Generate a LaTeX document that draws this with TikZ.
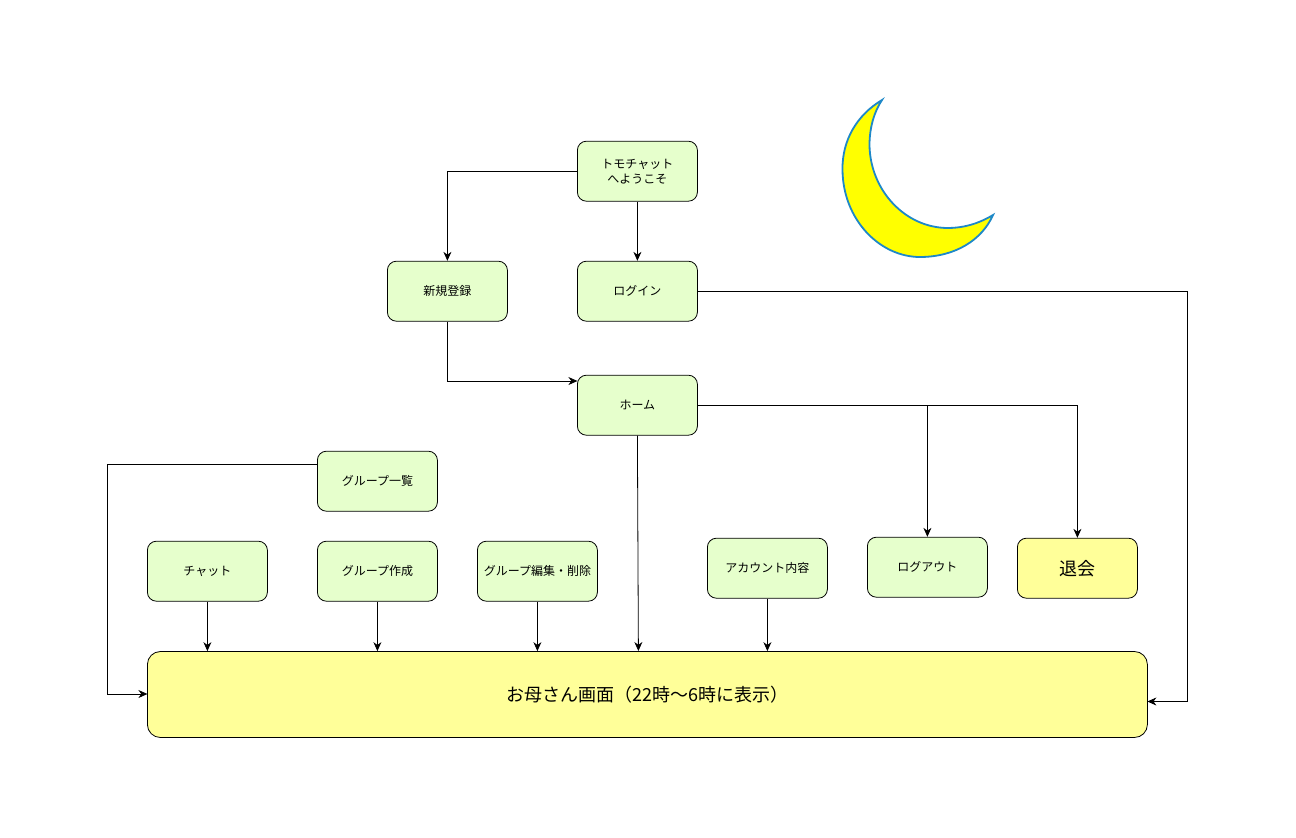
\documentclass[tikz,border=0pt]{standalone}
\usepackage{fontspec}
\setmainfont{Noto Sans CJK JP}
\usetikzlibrary{arrows.meta,calc}
\definecolor{boxgreen}{HTML}{E6FFCC}
\definecolor{boxyellow}{HTML}{FFFF99}
\definecolor{moonblue}{HTML}{1E88C8}
\definecolor{moonyellow}{RGB}{255,255,0}
\tikzset{
 x=1pt,y=-1pt,
 scrbox/.style={draw=black,line width=0.8pt,fill=boxgreen,rounded corners=9pt,minimum width=120pt,minimum height=60pt,inner sep=0pt,font=\fontsize{12}{15}\selectfont,align=center},
 warnbox/.style={scrbox,fill=boxyellow},
 conn/.style={draw=black,line width=0.8pt,-{Stealth[length=9pt,width=8pt]}},
}
\begin{document}
\begin{tikzpicture}
\useasboundingbox (0,0) rectangle (1296,838);
\fill[white] (0,0) rectangle (1296,838);
% moon
\draw[draw=moonblue,fill=moonyellow,line width=1.8pt,line join=miter]
 (882,100) .. controls (857,115) and (842,140) .. (842.5,170)
 .. controls (843,220) and (880,257) .. (920,257)
 .. controls (955,257) and (982,240) .. (993,215)
 .. controls (978,224) and (963,228) .. (948,228)
 .. controls (905,228) and (870,190) .. (869.5,145)
 .. controls (869.5,128) and (874,112) .. (882,100) -- cycle;
% nodes
\node[scrbox] (welcome) at (637.4,171.2) {トモチャット\\へようこそ};
\node[scrbox] (signup) at (447.4,291.2) {新規登録};
\node[scrbox] (login) at (637.4,291.2) {ログイン};
\node[scrbox] (home) at (637.4,405.2) {ホーム};
\node[scrbox] (list) at (377.4,481.2) {グループ一覧};
\node[scrbox] (chat) at (207.4,571.2) {チャット};
\node[scrbox] (create) at (377.4,571.2) {グループ作成};
\node[scrbox] (edit) at (537.4,571.2) {グループ編集・削除};
\node[scrbox] (account) at (767.4,568.2) {アカウント内容};
\node[scrbox] (logout) at (927.4,567.2) {ログアウト};
\node[warnbox,font=\fontsize{18}{22}\selectfont] (quit) at (1077.4,568.2) {退会};
\node[warnbox,minimum width=1000pt,minimum height=86pt,rounded corners=13pt,font=\fontsize{18}{22}\selectfont] (mother) at (647.4,694.5) {お母さん画面（22時〜6時に表示）};
% free-end coordinates
\coordinate (mTopHome) at (638.4,651);
\coordinate (loginCorner) at (1187,291.2);
\coordinate (motherRight) at (1147.4,701.5);
\coordinate (listCorner) at (107,464);
\coordinate (motherLeft) at (147.4,694);
\coordinate (homeIn) at (577.4,381);
% connectors
\draw[conn] (welcome.west) -| (signup.north);
\draw[conn] (welcome.south) -- (login.north);
\draw[conn] (signup.south) |- (homeIn);
\draw[conn] (login.east) -- (loginCorner) |- (motherRight);
\draw[conn] (home.south) -- (mTopHome);
\draw[conn] (home.east) -| (logout.north);
\draw[conn] (home.east) -| (quit.north);
\draw[conn] (list.west |- listCorner) -- (listCorner) |- (motherLeft);
\draw[conn] (chat.south) -- (chat.south |- mother.north);
\draw[conn] (create.south) -- (create.south |- mother.north);
\draw[conn] (edit.south) -- (edit.south |- mother.north);
\draw[conn] (account.south) -- (account.south |- mother.north);
\end{tikzpicture}
\end{document}
